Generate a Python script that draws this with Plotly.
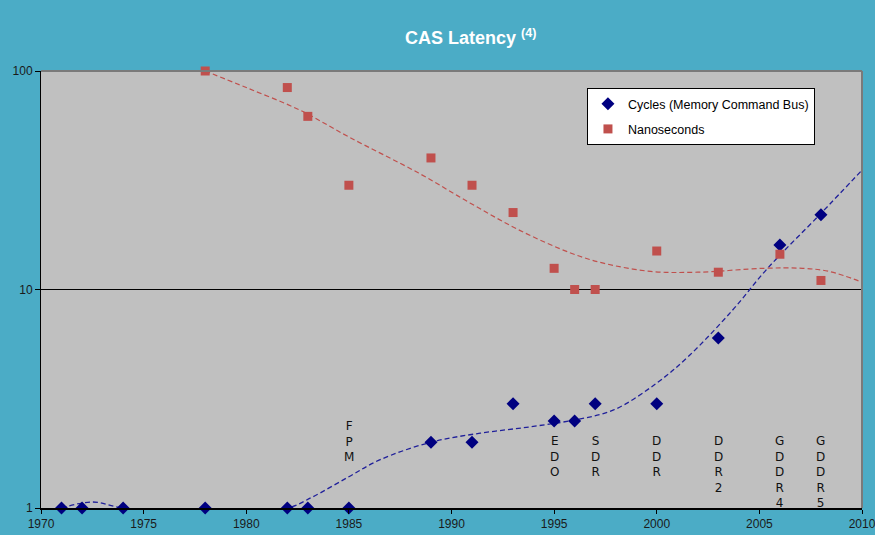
import plotly.graph_objects as go

# Measured points
cycle_years = [1971, 1972, 1974, 1978, 1982, 1983, 1985, 1989, 1991, 1993,
               1995, 1996, 1997, 2000, 2003, 2006, 2008]
cycles = [1, 1, 1, 1, 1, 1, 1, 2, 2, 3, 2.5, 2.5, 3, 3, 6, 16, 22]

ns_years = [1978, 1982, 1983, 1985, 1989, 1991, 1993, 1995, 1996, 1997,
            2000, 2003, 2006, 2008]
nanoseconds = [100, 84, 62, 30, 40, 30, 22.5, 12.5, 10, 10, 15, 12, 14.5, 11]

# Smoothed trend curves
cycle_trend_years = [1971, 1972.5, 1974, 1978, 1982, 1983.2, 1985, 1986.5, 1989,
                     1991.4, 1993.8, 1996, 1997.9, 2000, 2001.6, 2003.7, 2005.4,
                     2008, 2010]
cycle_trend = [1.0, 1.065, 1.0, 0.96, 1.0, 1.12, 1.39, 1.66, 2.0,
               2.2, 2.35, 2.53, 2.81, 3.73, 5.0, 8.06, 12.5, 22.3, 35.2]

ns_trend_years = [1978, 1980, 1982.6, 1985, 1988.4, 1990.9, 1993.3, 1995.8,
                  1997.4, 1999.7, 2002, 2005.2, 2007.1, 2008.4, 2010]
ns_trend = [100, 84, 66.3, 49.9, 34.1, 24.9, 18.7, 14.7,
            13.2, 12.1, 12.0, 12.5, 12.5, 12.1, 10.8]

# Memory generation labels
gen_labels = ["FPM", "EDO", "SDR", "DDR", "DDR2", "GDDR4", "GDDR5"]
gen_years = [1985, 1995, 1997, 2000, 2003, 2006, 2008]

y_ticks = [1, 10, 100]
x_ticks = [1970, 1975, 1980, 1985, 1990, 1995, 2000, 2005, 2010]

BG = "#4BACC6"
PLOT_BG = "#C0C0C0"
NAVY = "#000080"
RED = "#C0504D"

fig = go.Figure()

fig.add_trace(go.Scatter(
    x=cycle_trend_years, y=cycle_trend, mode="lines",
    line=dict(color="#20209A", width=1.3, dash="5px,3px", shape="spline", smoothing=1.0),
    showlegend=False, hoverinfo="skip"))
fig.add_trace(go.Scatter(
    x=ns_trend_years, y=ns_trend, mode="lines",
    line=dict(color=RED, width=1.2, dash="5px,3px", shape="spline", smoothing=1.0),
    showlegend=False, hoverinfo="skip"))

fig.add_trace(go.Scatter(
    x=cycle_years, y=cycles, mode="markers", name="Cycles (Memory Command Bus)",
    marker=dict(symbol="diamond", size=10, color=NAVY),
    cliponaxis=False, legendgroup="a"))
fig.add_trace(go.Scatter(
    x=ns_years, y=nanoseconds, mode="markers", name="Nanoseconds",
    marker=dict(symbol="square", size=9, color=RED),
    cliponaxis=False, legendgroup="b"))

# Vertically stacked generation labels (one letter per line)
for label, yr in zip(gen_labels, gen_years):
    top = 0.415 if label == "FPM" else 0.347
    fig.add_annotation(
        x=yr, y=top, text="<br>".join(label), showarrow=False,
        xanchor="center", yanchor="top", align="center",
        font=dict(family="DejaVu Sans", size=12, color="#111111"))

# Top and right frame of the plot area
fig.add_shape(type="line", xref="paper", yref="paper", x0=0, x1=1, y0=1, y1=1,
              line=dict(color="#7a7a7a", width=2), layer="above")
fig.add_shape(type="line", xref="paper", yref="paper", x0=1, x1=1, y0=0, y1=1,
              line=dict(color="#7a7a7a", width=2), layer="above")

fig.update_layout(
    width=875, height=535,
    margin=dict(l=41, r=13, t=71, b=27),
    paper_bgcolor=BG, plot_bgcolor=PLOT_BG,
    font=dict(family="Liberation Sans, Arial", color="#1a1a1a"),
    title=dict(text="<b>CAS Latency <sup>(4)</sup></b>",
               x=0.538, xref="container", xanchor="center",
               y=0.929, yref="container", yanchor="middle",
               font=dict(family="Liberation Sans, Arial", size=18, color="white")),
    legend=dict(x=0.665, y=0.961, xanchor="left", yanchor="top",
                bgcolor="white", bordercolor="black", borderwidth=1,
                font=dict(size=12.5, color="black"),
                itemwidth=30, traceorder="grouped", tracegroupgap=6),
    showlegend=True,
)

fig.update_xaxes(range=[1970, 2010], tickvals=x_ticks, showgrid=False,
                 ticks="outside", ticklen=4, tickcolor="black",
                 showline=True, linecolor="black", linewidth=2,
                 tickfont=dict(size=12, color="#1a1a1a"), zeroline=False,
                 automargin=False, ticklabeloverflow="allow")
fig.update_yaxes(type="log", range=[0, 2], tickvals=y_ticks,
                 ticktext=[str(v) for v in y_ticks],
                 showgrid=True, gridcolor="black", gridwidth=1,
                 ticks="outside", ticklen=5, tickcolor="black",
                 showline=True, linecolor="black", linewidth=1,
                 tickfont=dict(size=12, color="#1a1a1a"), zeroline=False,
                 automargin=False)

fig.write_html("out.html")
